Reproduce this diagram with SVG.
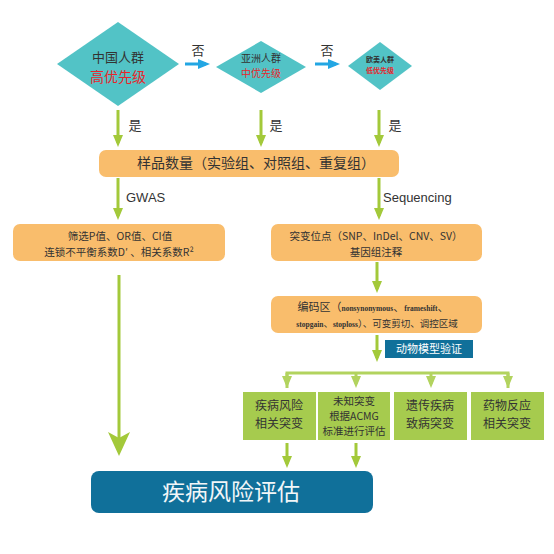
<svg xmlns="http://www.w3.org/2000/svg" width="554" height="554" viewBox="0 0 554 554">
<style>
.dia{fill:#52C3C6}
.org{fill:#F9BD6C}
.grn{fill:#A6CB4E}
.blu{fill:#10709A}
.t{font-family:"Noto Sans CJK SC","Liberation Sans",sans-serif;fill:#333;text-anchor:middle}
.red{fill:#E8252A}
.lat{font-family:"Liberation Sans",Arial,sans-serif;fill:#333}
.g{stroke:#A3C93A;stroke-width:3;fill:none}
.gl{stroke:#B2D35E;stroke-width:3;fill:none}
.b{stroke:#23A6E3;stroke-width:3;fill:none}
.w{fill:#fff}
.ser{font-family:"Liberation Serif",serif;font-weight:bold}
</style>
<defs>
<marker id="ga" viewBox="0 0 12 10" refX="8" refY="5" markerWidth="12" markerHeight="10" orient="auto" markerUnits="userSpaceOnUse"><path d="M0,0 L12,5 L0,10 z" fill="#A3C93A"/></marker>
<marker id="gla" viewBox="0 0 12 10" refX="8" refY="5" markerWidth="12" markerHeight="10" orient="auto" markerUnits="userSpaceOnUse"><path d="M0,0 L12,5 L0,10 z" fill="#B2D35E"/></marker>
<marker id="gb" viewBox="0 0 24 22" refX="18" refY="11" markerWidth="24" markerHeight="22" orient="auto" markerUnits="userSpaceOnUse"><path d="M0,0 L24,11 L0,22 L6,11 z" fill="#A3C93A"/></marker>
<marker id="ba" viewBox="0 0 12 10" refX="8" refY="5" markerWidth="12" markerHeight="10" orient="auto" markerUnits="userSpaceOnUse"><path d="M0,0 L12,5 L0,10 z" fill="#23A6E3"/></marker>
</defs>

<g id="connectors">
<line class="b" x1="185" y1="64" x2="206" y2="64" marker-end="url(#ba)"/>
<line class="b" x1="315" y1="64" x2="336" y2="64" marker-end="url(#ba)"/>
<line class="g" x1="118" y1="110" x2="118" y2="143" marker-end="url(#ga)"/>
<line class="g" x1="261" y1="110" x2="261" y2="143" marker-end="url(#ga)"/>
<line class="g" x1="379" y1="110" x2="379" y2="143" marker-end="url(#ga)"/>
<line class="g" x1="118" y1="178" x2="118" y2="216" marker-end="url(#ga)"/>
<line class="g" x1="379" y1="178" x2="379" y2="216" marker-end="url(#ga)"/>
<line class="g" x1="377" y1="262" x2="377" y2="289" marker-end="url(#ga)"/>
<line class="g" x1="377" y1="335" x2="377" y2="358" marker-end="url(#ga)"/>
<polyline class="gl" points="287,388 287,373 508,373 508,388"/>
<line class="gl" x1="287" y1="373" x2="287" y2="384" marker-end="url(#gla)"/>
<line class="gl" x1="356" y1="373" x2="356" y2="384" marker-end="url(#gla)"/>
<line class="gl" x1="431" y1="373" x2="431" y2="384" marker-end="url(#gla)"/>
<line class="gl" x1="508" y1="373" x2="508" y2="384" marker-end="url(#gla)"/>
<line class="g" x1="287" y1="443" x2="287" y2="464" marker-end="url(#ga)"/>
<line class="g" x1="356" y1="443" x2="356" y2="464" marker-end="url(#ga)"/>
<line class="g" x1="119" y1="275" x2="119" y2="450" marker-end="url(#gb)"/>
</g>

<g id="labels">
<text class="t" x="198" y="55" font-size="13">否</text>
<text class="t" x="327" y="55" font-size="13">否</text>
<text class="t" x="135" y="130" font-size="13">是</text>
<text class="t" x="276" y="130" font-size="13">是</text>
<text class="t" x="395" y="130" font-size="13">是</text>
<text class="lat" x="126" y="202" font-size="13">GWAS</text>
<text class="lat" x="383" y="202" font-size="13">Sequencing</text>
</g>

<g id="d1">
<polygon class="dia" points="118,22 179,64 118,106 57,64"/>
<text class="t" x="118" y="62" font-size="13">中国人群</text>
<text class="t red" x="118" y="82" font-size="14">高优先级</text>
</g>
<g id="d2">
<polygon class="dia" points="261,41 306,67 261,93 216,67"/>
<text class="t" x="261" y="62" font-size="10">亚洲人群</text>
<text class="t red" x="261" y="77" font-size="10">中优先级</text>
</g>
<g id="d3">
<polygon class="dia" points="380,42 412,66 380,90 348,66"/>
<text class="t" x="380" y="62" font-size="7" font-weight="bold">欧美人群</text>
<text class="t red" x="380" y="73" font-size="7" font-weight="bold">低优先级</text>
</g>

<g id="sample">
<rect class="org" x="99" y="150" width="300" height="27" rx="7"/>
<text class="t" x="256" y="168" font-size="14">样品数量（实验组、对照组、重复组）</text>
</g>

<g id="gwasbox">
<rect class="org" x="13" y="224" width="212" height="37" rx="7"/>
<text class="t" x="120" y="240" font-size="10.5">筛选P值、OR值、CI值</text>
<text class="t" x="119" y="255.5" font-size="10.5">连锁不平衡系数D′ 、相关系数R²</text>
</g>

<g id="mutbox">
<rect class="org" x="271" y="224" width="211" height="37" rx="7"/>
<text class="t" x="376" y="240" font-size="10.5">突变位点（SNP、InDel、CNV、SV）</text>
<text class="t" x="376" y="255.5" font-size="10.5">基因组注释</text>
</g>

<g id="codingbox">
<rect class="org" x="271" y="296" width="211" height="37" rx="7"/>
<text class="t" x="373" y="311" font-size="11">编码区（<tspan class="ser" font-size="7.5">nonsynonymous</tspan>、<tspan class="ser" font-size="7.5">frameshift</tspan>、</text>
<text class="t" x="377" y="327" font-size="9.5"><tspan class="ser" font-size="7.5">stopgain</tspan>、<tspan class="ser" font-size="7.5">stoploss</tspan>）、可变剪切、调控区域</text>
</g>

<g id="animal">
<rect class="blu" x="385" y="340" width="88" height="18"/>
<text class="t w" x="429" y="353" font-size="11">动物模型验证</text>
</g>

<g id="g1">
<rect class="grn" x="243" y="392" width="73" height="48"/>
<text class="t" x="279" y="410" font-size="12">疾病风险</text>
<text class="t" x="279" y="428" font-size="12">相关突变</text>
</g>
<g id="g2">
<rect class="grn" x="318" y="392" width="72" height="48"/>
<text class="t" x="354" y="405" font-size="10.5">未知突变</text>
<text class="t" x="354" y="420" font-size="10.5">根据ACMG</text>
<text class="t" x="354" y="435" font-size="10.5">标准进行评估</text>
</g>
<g id="g3">
<rect class="grn" x="394" y="392" width="73" height="48"/>
<text class="t" x="430" y="410" font-size="12">遗传疾病</text>
<text class="t" x="430" y="428" font-size="12">致病突变</text>
</g>
<g id="g4">
<rect class="grn" x="471" y="392" width="73" height="48"/>
<text class="t" x="507" y="410" font-size="12">药物反应</text>
<text class="t" x="507" y="428" font-size="12">相关突变</text>
</g>

<g id="risk">
<rect class="blu" x="91" y="471" width="282" height="42" rx="8"/>
<text class="t" x="231" y="500" font-size="23" style="fill:#F2F6F8">疾病风险评估</text>
</g>
</svg>
